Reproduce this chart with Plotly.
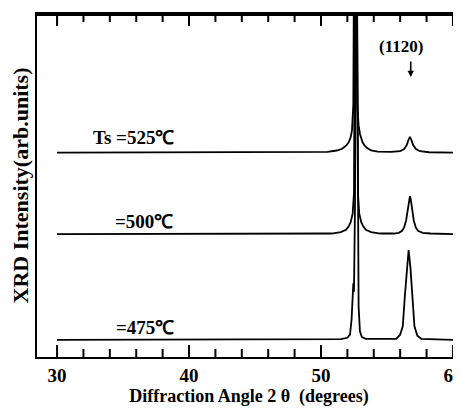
import plotly.graph_objects as go

# --- data (2theta in degrees, relative intensity above each baseline) ---
x_525 = [30, 50.5, 51.2, 51.6, 51.9, 52.1, 52.25, 52.35, 52.45, 52.6, 52.75, 52.85, 52.95, 53.05, 53.15, 53.3, 53.5, 53.8, 54.3, 55.3,
         56.0, 56.3, 56.5, 56.62, 56.74, 56.86, 56.98, 57.2, 57.5, 58.2, 60]
y_525 = [0, 0.2, 0.6, 1.1, 2.0, 3.0, 4.5, 6.5, 14, 140, 14, 8, 5.5, 4.0, 3.0, 2.1, 1.3, 0.6, 0.3, 0.2,
         0.4, 1.0, 2.2, 3.6, 4.6, 3.6, 2.2, 1.0, 0.4, 0.1, 0]

x_500 = [30, 50.8, 51.5, 51.9, 52.1, 52.25, 52.4, 52.5, 52.65, 52.8, 52.9, 53.05, 53.2, 53.4, 53.8, 54.5, 55.5,
         55.9, 56.15, 56.3, 56.45, 56.58, 56.68, 56.74, 56.8, 56.9, 57.03, 57.18, 57.35, 57.7, 58.3, 60]
y_500 = [0, 0.2, 0.6, 1.3, 2.3, 3.5, 6, 12, 140, 12, 6, 3.5, 2.3, 1.3, 0.6, 0.2, 0.2,
         0.4, 1.0, 2.0, 4.0, 7.5, 10.2, 11.1, 10.2, 7.5, 4.0, 2.0, 1.0, 0.4, 0.2, 0]

x_475 = [30, 51.5, 52.0, 52.2, 52.32, 52.4, 52.45, 52.5, 52.58, 52.68, 52.78, 52.85, 52.95, 53.1, 53.4, 55.0,
         55.7, 56.0, 56.2, 56.36, 56.5, 56.64, 56.78, 56.92, 57.08, 57.3, 57.6, 58.2, 60]
y_475 = [0, 0.2, 0.6, 1.5, 6, 16, 16.5, 14, 40, 140, 30, 9.7, 2.5, 0.8, 0.3, 0.2,
         0.3, 1.5, 4, 13, 21, 26.2, 21, 13, 4, 1.2, 0.3, 0.2, 0]

tick_major = [30, 40, 50, 60]
tick_minor = [32, 34, 36, 38, 42, 44, 46, 48, 52, 54, 56, 58]
labels = ["Ts =525\u2103", "=500\u2103", "=475\u2103"]
offsets = [59.6, 35.8, 5.0]

FONT = "Liberation Serif"
X_RANGE = [28.48, 60.61]
Y_RANGE = [0, 100]
PLOT_H_PX = 343                      # plot-area height in pixels
PX = (Y_RANGE[1] - Y_RANGE[0]) / PLOT_H_PX   # one pixel in y units

fig = go.Figure()
for xs, ys, off in [(x_525, y_525, offsets[0]), (x_500, y_500, offsets[1]), (x_475, y_475, offsets[2])]:
    fig.add_trace(go.Scatter(x=xs, y=[v + off for v in ys], mode="lines",
                             line=dict(color="black", width=1.8), showlegend=False,
                             hoverinfo="skip"))

# frame decorations: inward ticks on bottom and top edges, and the top frame line
tx, ty = [], []
for vals, length in [(tick_major, 12), (tick_minor, 8)]:
    for v in vals:
        tx += [v, v, None, v, v, None]
        ty += [Y_RANGE[0], Y_RANGE[0] + length * PX, None,
               Y_RANGE[1], Y_RANGE[1] - length * PX, None]
tx += [X_RANGE[0], X_RANGE[1]]
ty += [Y_RANGE[1] - PX, Y_RANGE[1] - PX]
fig.add_trace(go.Scatter(x=tx, y=ty, mode="lines", line=dict(color="black", width=2),
                         showlegend=False, hoverinfo="skip", connectgaps=False))

label_x = [35.76, 36.6, 36.67]
label_y = [64.1, 39.4, 8.7]
for t, lx, ly in zip(labels, label_x, label_y):
    fig.add_annotation(x=lx, y=ly, text="<b>" + t + "</b>", showarrow=False,
                       font=dict(family=FONT, size=19, color="black"))

fig.add_annotation(x=56.1, y=90.4, text="<b>(1120)</b>", showarrow=False,
                   font=dict(family=FONT, size=17, color="black"))
fig.add_annotation(x=56.8, y=81.6, ax=0, ay=-17, text="", showarrow=True,
                   arrowhead=2, arrowsize=0.8, arrowwidth=1.6, arrowcolor="black")

# page body has an 8px margin: the figure is sized to fit inside the window
fig.update_layout(
    width=453, height=402,
    margin=dict(l=29, r=0, t=6, b=53, autoexpand=False),
    plot_bgcolor="white", paper_bgcolor="white",
    font=dict(family=FONT, color="black"),
    xaxis=dict(range=X_RANGE, showgrid=False, zeroline=False,
               tickvals=tick_major, ticktext=[str(v) for v in tick_major],
               ticks="", showline=True, linewidth=2, linecolor="black", mirror=True,
               ticklabeloverflow="allow",
               tickfont=dict(family=FONT, size=19, color="black", weight="bold"),
               title=dict(text="Diffraction Angle 2 \u03b8  (degrees)", standoff=2,
                          font=dict(family=FONT, size=18, color="black", weight="bold"))),
    yaxis=dict(range=Y_RANGE, showgrid=False, zeroline=False, showticklabels=False,
               ticks="", showline=True, linewidth=2, linecolor="black",
               title=dict(text="XRD Intensity(arb.units)", standoff=4,
                          font=dict(family=FONT, size=22, color="black", weight="bold"))),
)

fig.write_html("out.html")
